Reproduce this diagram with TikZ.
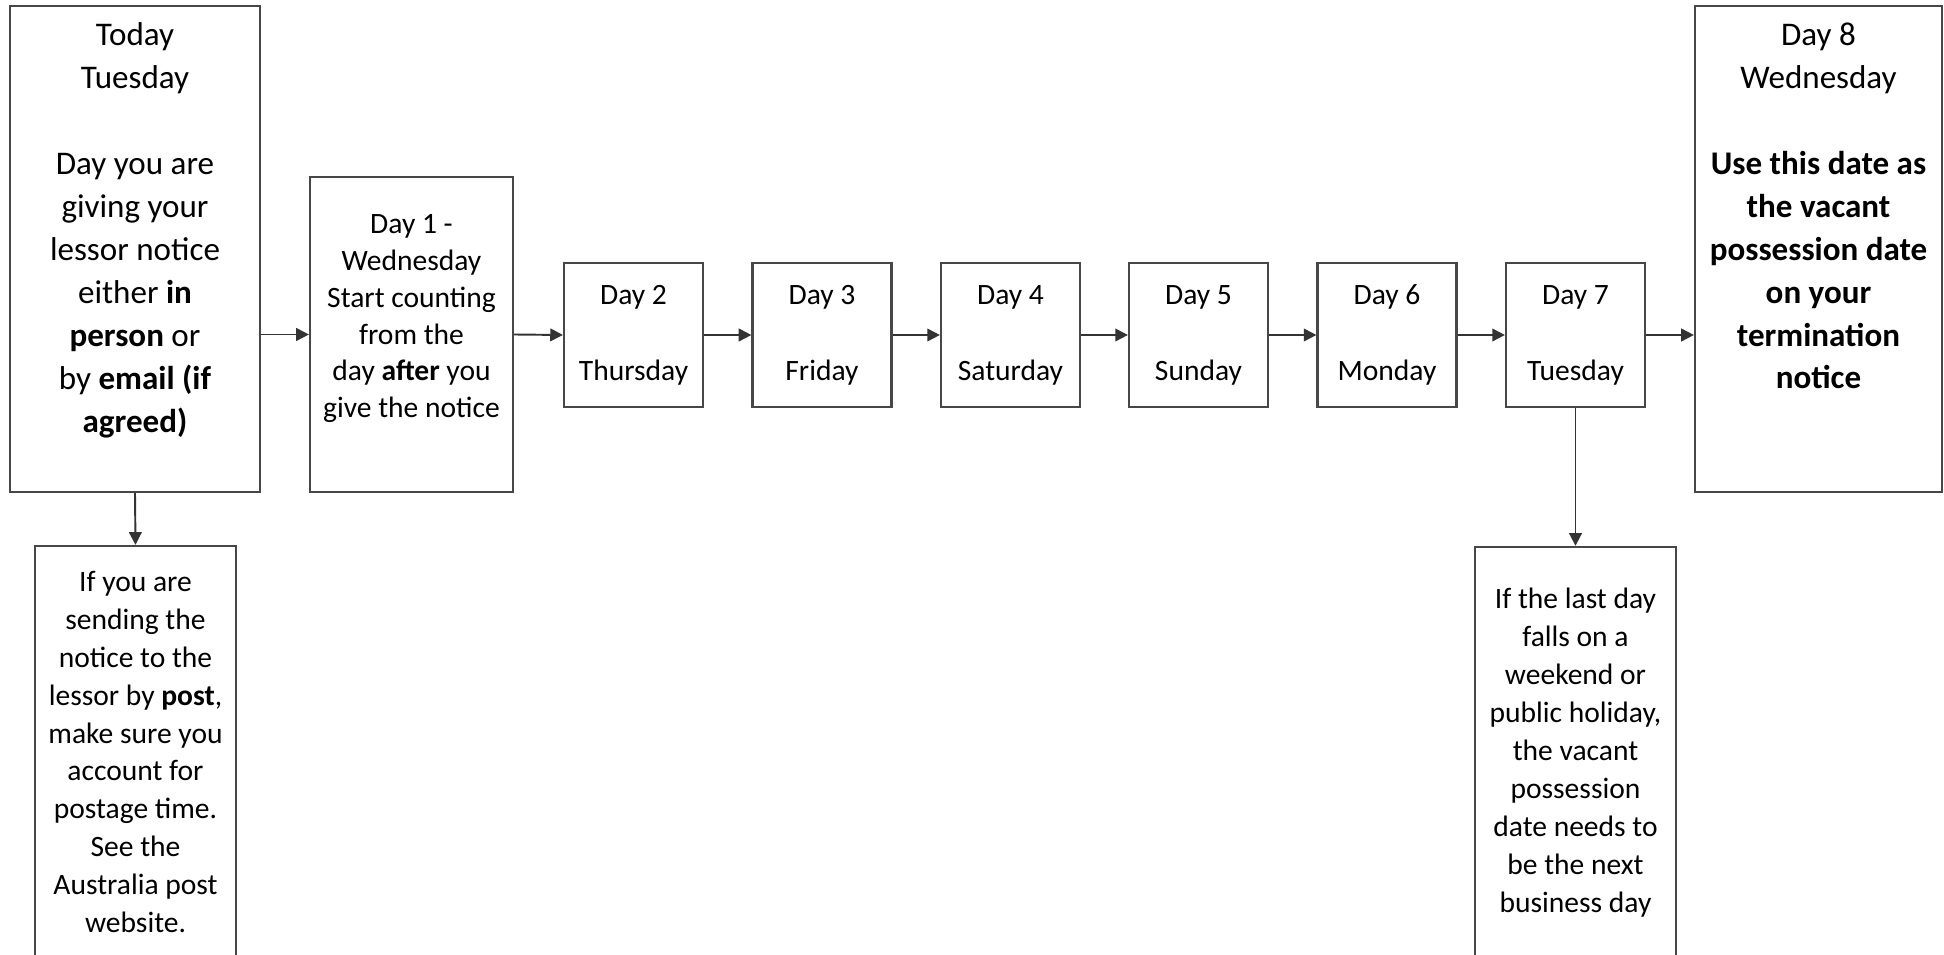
\documentclass[tikz,border=0pt]{standalone}
\usepackage{fontspec}
\setmainfont{Carlito}
\usetikzlibrary{arrows.meta}

\begin{document}
\begin{tikzpicture}[x=0.01cm,y=-0.01cm]
  \tikzstyle{box}=[draw=black!72,line width=0.6pt,align=center,inner sep=0pt]
  \tikzstyle{big}=[box,font=\fontsize{9.4}{12.2}\selectfont]
  \tikzstyle{small}=[box,font=\fontsize{8.4}{10.8}\selectfont]
  \tikzstyle{arr}=[draw=black!80,line width=0.55pt,-{Triangle[length=3.6pt,width=3.6pt]}]
  \newcommand\daybox[4]{\node[small,minimum width=1.39cm,minimum height=1.44cm] (#1) at (#2,335) {Day #3\\ \mbox{}\\#4};}
  \path[use as bounding box,clip] (0,0) rectangle (1944,955);
  % first and last day
  \node[big,minimum width=2.5cm,minimum height=4.86cm] (today) at (135,249)
    {Today\\Tuesday\\ \mbox{}\\Day you are\\giving your\\lessor notice\\either \textbf{in}\\\textbf{person} or\\by \textbf{email (if}\\\textbf{agreed)}\\ \mbox{}};
  \node[box,font=\fontsize{8.4}{10.5}\selectfont,minimum width=2.03cm,minimum height=3.15cm] (d1) at (411.5,334.5)
    {Day 1 -\\Wednesday\\Start counting\\from the\\day \textbf{after} you\\give the notice\\ \mbox{}};
  \daybox{d2}{633.5}{2}{Thursday}
  \daybox{d3}{822}{3}{Friday}
  \daybox{d4}{1010.5}{4}{Saturday}
  \daybox{d5}{1198.5}{5}{Sunday}
  \daybox{d6}{1387}{6}{Monday}
  \daybox{d7}{1575.5}{7}{Tuesday}
  \node[big,minimum width=2.47cm,minimum height=4.86cm] (d8) at (1818.5,249)
    {Day 8\\Wednesday\\ \mbox{}\\\textbf{Use this date as}\\\textbf{the vacant}\\\textbf{possession date}\\\textbf{on your}\\\textbf{termination}\\\textbf{notice}\\ \mbox{}\\ \mbox{}};
  % notes below
  \node[small,minimum width=2.01cm,minimum height=4.12cm] (post) at (135.5,752)
    {If you are\\sending the\\notice to the\\lessor by \textbf{post},\\make sure you\\account for\\postage time.\\See the\\Australia post\\website.};
  \node[small,minimum width=2.01cm,minimum height=4.12cm] (busi) at (1575.5,753)
    {If the last day\\falls on a\\weekend or\\public holiday,\\the vacant\\possession\\date needs to\\be the next\\business day};
  \draw[arr] (today.east |- d1.west) -- (d1.west);
  \draw[arr] (d1.east) -- (d2.west);
  \draw[arr] (d2.east) -- (d3.west);
  \draw[arr] (d3.east) -- (d4.west);
  \draw[arr] (d4.east) -- (d5.west);
  \draw[arr] (d5.east) -- (d6.west);
  \draw[arr] (d6.east) -- (d7.west);
  \draw[arr] (d7.east) -- (d7.east -| d8.west);
  \draw[arr] (today.south) -- (post.north);
  \draw[arr] (d7.south) -- (busi.north);
\end{tikzpicture}
\end{document}
